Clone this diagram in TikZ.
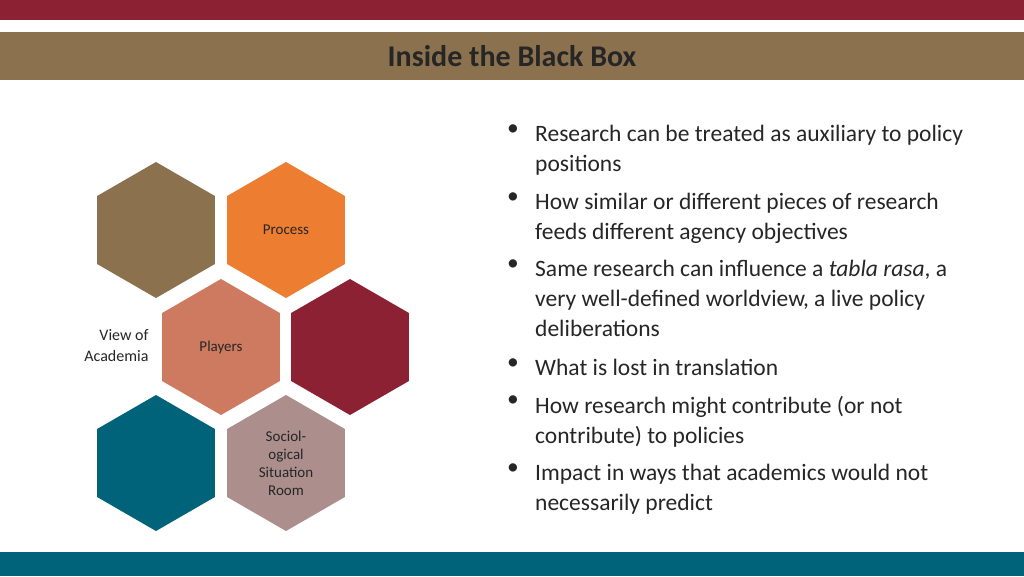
\documentclass[tikz,border=0pt]{standalone}
\usepackage{fontspec}
\setmainfont{Carlito}
\usetikzlibrary{shapes.geometric}
\definecolor{dred}{RGB}{139,33,50}
\definecolor{tan}{RGB}{139,113,78}
\definecolor{orng}{RGB}{237,125,49}
\definecolor{salm}{RGB}{205,122,96}
\definecolor{teal}{RGB}{0,99,122}
\definecolor{mauve}{RGB}{172,143,140}
\tikzset{hex/.style={regular polygon,regular polygon sides=6,shape border rotate=30,minimum size=136pt,inner sep=0pt,fill=#1,align=center,font=\fontsize{15}{18}\selectfont,text=black!85},
bul/.style={anchor=north west,align=left,font=\fontsize{23.5}{30}\selectfont,text=black!85,inner sep=0pt},
dot/.style={anchor=north west,font=\fontsize{23.5}{30}\selectfont,text=black!85,inner sep=0pt}}
\begin{document}
\begin{tikzpicture}[x=1pt,y=-1pt]
\useasboundingbox (0,0) rectangle (1024,576);
\fill[white] (0,0) rectangle (1024,576);
\fill[dred] (0,0) rectangle (1024,20);
\fill[tan] (0,32) rectangle (1024,80);
\fill[teal] (0,552) rectangle (1024,576);
\node[font=\fontsize{30}{36}\selectfont\bfseries,text=black!85] (title) at (512,56) {Inside the Black Box};
\node[hex=tan] (h1) at (156,230) {};
\node[hex=orng] (h2) at (286,230) {Process};
\node[hex=salm] (h3) at (221,347) {Players};
\node[hex=dred] (h4) at (350,347) {};
\node[hex=teal] (h5) at (156,463) {};
\node[hex=mauve] (h6) at (286,463) {Sociol-\\ogical\\Situation\\Room};
\node[anchor=east,align=right,font=\fontsize{16}{21}\selectfont,text=black!85] (va) at (152,346) {View of\\Academia};
\foreach \y/\t [count=\i] in {125/{Research can be treated as auxiliary to policy\\positions},
 193/{How similar or different pieces of research\\feeds different agency objectives},
 260/{Same research can influence a \textit{tabla rasa}, a\\very well-defined worldview, a live policy\\deliberations},
 359/{What is lost in translation},
 396/{How research might contribute (or not\\contribute) to policies},
 464/{Impact in ways that academics would not\\necessarily predict}}{
 \node[dot] (d\i) at (507,\y) {•};
 \node[bul] (b\i) at (535,\y) {\t};
}
\end{tikzpicture}
\end{document}
